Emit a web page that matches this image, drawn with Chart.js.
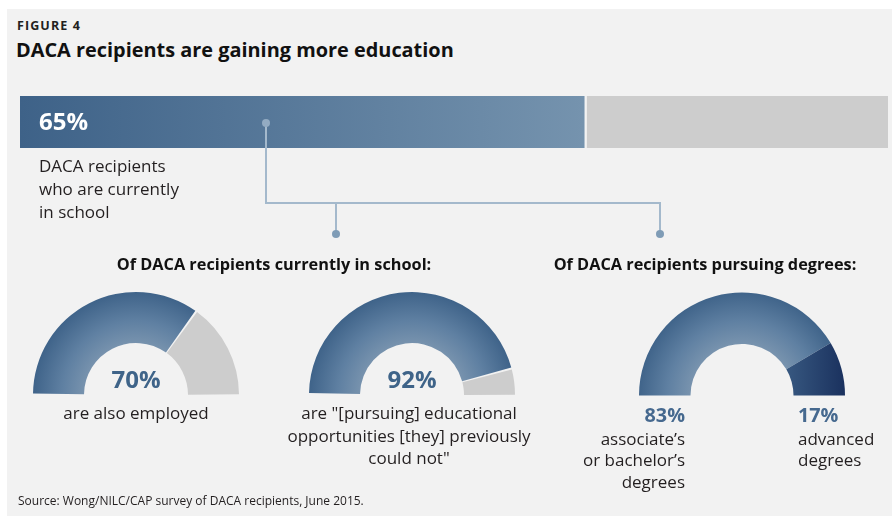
<!DOCTYPE html>
<html>
<head>
<meta charset="utf-8">
<script src="https://cdn.jsdelivr.net/npm/chart.js@4.4.0/dist/chart.umd.min.js"></script>
<style>
  html, body { margin: 0; padding: 0; background: #ffffff; }
  body { width: 893px; height: 516px; position: relative; overflow: hidden;
         font-family: "Open Sans", "Noto Sans", sans-serif; color: #231f20; }
  #panel { position: absolute; left: 7px; top: 9px; width: 885px; height: 507px; background: #f2f2f2; }
  .t { position: absolute; white-space: nowrap; }
  canvas { position: absolute; }
  svg { position: absolute; left: 0; top: 0; pointer-events: none; }
</style>
</head>
<body>
<div id="panel"></div>

<div class="t" style="left:17px; top:18px; font-size:12.5px; line-height:15px; font-weight:700; letter-spacing:1.1px;">FIGURE 4</div>
<div class="t" style="left:16px; top:38px; font-size:19.9px; line-height:24px; font-weight:700; color:#111;">DACA recipients are gaining more education</div>

<canvas id="bar" width="868" height="52" style="left:20px; top:96px; width:868px; height:52px;"></canvas>
<div class="t" id="barValue" style="left:39px; top:108px; font-size:24px; line-height:26px; font-weight:700; color:#ffffff;"></div>
<div class="t" id="barLabel" style="left:39px; top:154px; font-size:17px; line-height:23px;"></div>

<svg width="893" height="516">
  <polyline points="266,123 266,203 660,203 660,234" fill="none" stroke="#a4b9cc" stroke-width="2"/>
  <line x1="336" y1="203" x2="336" y2="234" stroke="#a4b9cc" stroke-width="2"/>
  <circle cx="266" cy="123" r="4" fill="#93abc2"/>
  <circle cx="336" cy="234" r="4" fill="#7f9cb6"/>
  <circle cx="660" cy="234" r="4" fill="#7f9cb6"/>
</svg>

<div class="t" id="head1" style="left:74px; width:400px; text-align:center; top:254px; font-size:16.3px; line-height:20px; font-weight:700; color:#111;"></div>
<div class="t" id="head2" style="left:505px; width:400px; text-align:center; top:254px; font-size:16.3px; line-height:20px; font-weight:700; color:#111;"></div>

<canvas id="g1" width="212" height="108" style="left:30px; top:290px; width:212px; height:108px;"></canvas>
<canvas id="g2" width="212" height="108" style="left:306px; top:290px; width:212px; height:108px;"></canvas>
<canvas id="g3" width="212" height="108" style="left:636px; top:290px; width:212px; height:108px;"></canvas>

<div class="t" id="g1Value" style="left:36px; width:200px; text-align:center; top:365.5px; font-size:24px; line-height:26px; font-weight:700; color:#3f6489;"></div>
<div class="t" id="g1Label" style="left:36px; width:200px; text-align:center; top:402.4px; font-size:17px; line-height:22px;"></div>
<div class="t" id="g2Value" style="left:312px; width:200px; text-align:center; top:365.5px; font-size:24px; line-height:26px; font-weight:700; color:#3f6489;"></div>
<div class="t" id="g2Label" style="left:259px; width:300px; text-align:center; top:402.2px; font-size:17px; line-height:22.5px;"></div>

<div class="t" id="g3aValue" style="left:535px; width:150px; text-align:right; top:403px; font-size:19.8px; line-height:24px; font-weight:700; color:#46698f;"></div>
<div class="t" id="g3aLabel" style="left:535px; width:150px; text-align:right; top:427.6px; font-size:17px; line-height:21.5px;"></div>
<div class="t" id="g3bValue" style="left:798px; top:403px; font-size:19.8px; line-height:24px; font-weight:700; color:#46698f;"></div>
<div class="t" id="g3bLabel" style="left:798px; top:427.6px; font-size:17px; line-height:21.5px;"></div>

<div class="t" id="source" style="left:18px; top:494px; font-size:12px; line-height:14px;"></div>

<script>
// ---------- data ----------
const barCategories = ['DACA recipients who are currently in school'];
const barValues = [65];
const barRemainder = [35];
const barLabelLines = ['DACA recipients', 'who are currently', 'in school'];

const sectionTitles = ['Of DACA recipients currently in school:', 'Of DACA recipients pursuing degrees:'];

const employedLabels = ['Also employed', 'Not employed'];
const employedValues = [70, 30];
const employedCaption = ['are also employed'];

const opportunityLabels = ['Pursuing new opportunities', 'Other'];
const opportunityValues = [92, 8];
const opportunityCaption = ['are "[pursuing] educational', 'opportunities [they] previously', 'could not"'];

const degreeLabels = ["Associate's or bachelor's degrees", 'Advanced degrees'];
const degreeValues = [83, 17];
const degreeCaptionA = ["associate\u2019s", "or bachelor\u2019s", 'degrees'];
const degreeCaptionB = ['advanced', 'degrees'];

const sourceText = 'Source: Wong/NILC/CAP survey of DACA recipients, June 2015.';

// ---------- text ----------
const pct = v => v + '%';
const setLines = (id, lines) => { document.getElementById(id).innerHTML = lines.map(l => l.replace(/&/g,'&amp;').replace(/</g,'&lt;')).join('<br>'); };
document.getElementById('barValue').textContent = pct(barValues[0]);
setLines('barLabel', barLabelLines);
document.getElementById('head1').textContent = sectionTitles[0];
document.getElementById('head2').textContent = sectionTitles[1];
document.getElementById('g1Value').textContent = pct(employedValues[0]);
setLines('g1Label', employedCaption);
document.getElementById('g2Value').textContent = pct(opportunityValues[0]);
setLines('g2Label', opportunityCaption);
document.getElementById('g3aValue').textContent = pct(degreeValues[0]);
setLines('g3aLabel', degreeCaptionA);
document.getElementById('g3bValue').textContent = pct(degreeValues[1]);
setLines('g3bLabel', degreeCaptionB);
document.getElementById('source').textContent = sourceText;

// ---------- colours ----------
const GREY = '#cdcdcd';
function barGradient(ctx) {
  const chart = ctx.chart, area = chart.chartArea;
  if (!area || !chart.scales.x) return '#5a7ca0';
  const x1 = chart.scales.x.getPixelForValue(barValues[0]);
  const g = chart.ctx.createLinearGradient(area.left, 0, x1, 0);
  g.addColorStop(0, '#3e6288');
  g.addColorStop(1, '#7593ae');
  return g;
}
function geom(chart) {
  const area = chart.chartArea;
  const c = chart.getDatasetMeta(0).controller;
  if (!area || !c || !c.outerRadius) return null;
  return { cx: (area.left + area.right) / 2 + (c.offsetX || 0),
           cy: (area.top + area.bottom) / 2 + (c.offsetY || 0),
           ir: c.innerRadius, or: c.outerRadius };
}
function blueRadial(chart) {
  const g0 = geom(chart);
  if (!g0) return '#5a7ca0';
  const g = chart.ctx.createRadialGradient(g0.cx, g0.cy, g0.ir, g0.cx, g0.cy, g0.or);
  g.addColorStop(0, '#7893ae');
  g.addColorStop(0.45, '#5f80a2');
  g.addColorStop(1, '#40648a');
  return g;
}
function navyLinear(chart) {
  const g0 = geom(chart);
  if (!g0) return '#2a4670';
  const g = chart.ctx.createLinearGradient(g0.cx + g0.ir * 0.6, 0, g0.cx + g0.or, 0);
  g.addColorStop(0, '#3e6188');
  g.addColorStop(1, '#1a315e');
  return g;
}
// scriptable colour per slice: first slice blue gradient, second slice given style
const sliceColors = second => ctx => ctx.dataIndex === 0 ? blueRadial(ctx.chart)
  : (second === 'navy' ? navyLinear(ctx.chart) : GREY);

// ---------- charts ----------
Chart.defaults.animation = false;
Chart.defaults.events = [];
Chart.defaults.plugins.legend.display = false;
Chart.defaults.plugins.tooltip.enabled = false;

new Chart(document.getElementById('bar'), {
  type: 'bar',
  data: {
    labels: barCategories,
    datasets: [
      { data: barValues, backgroundColor: barGradient, borderWidth: 0, barPercentage: 1, categoryPercentage: 1 },
      { data: barRemainder, backgroundColor: GREY, borderColor: '#f2f2f2',
        borderWidth: { left: 3, top: 0, right: 0, bottom: 0 }, borderSkipped: false,
        barPercentage: 1, categoryPercentage: 1 }
    ]
  },
  options: {
    indexAxis: 'y', responsive: false,
    layout: { padding: 0 },
    scales: {
      x: { stacked: true, min: 0, max: 100, display: false },
      y: { stacked: true, display: false }
    }
  }
});

function gauge(id, labels, values, second, spacing, radius) {
  return new Chart(document.getElementById(id), {
    type: 'doughnut',
    data: { labels, datasets: [{ data: values, backgroundColor: sliceColors(second), borderWidth: 0, spacing }] },
    options: {
      responsive: false, rotation: -90, circumference: 180, cutout: '50%', radius,
      layout: { padding: 0 }
    }
  });
}
gauge('g1', employedLabels, employedValues, 'grey', 2, 102);
gauge('g2', opportunityLabels, opportunityValues, 'grey', 2, 102);
gauge('g3', degreeLabels, degreeValues, 'navy', 0, 103);
</script>
</body>
</html>
